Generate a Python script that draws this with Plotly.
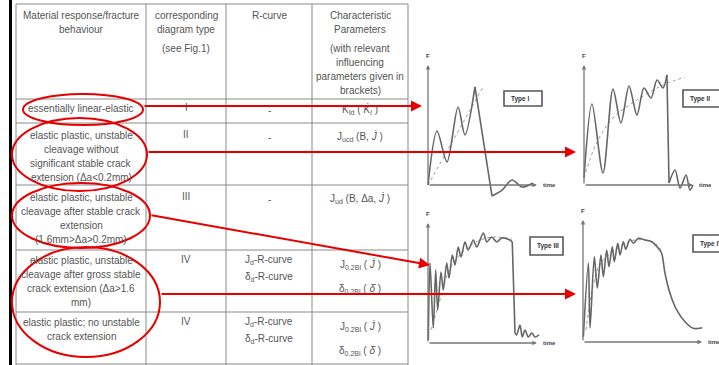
import plotly.graph_objects as go

W, H = 719, 365
FONT = "Liberation Sans, Arial, sans-serif"
GRAY_TXT = "#555555"
RED = "#e60000"
CURVE = "#666666"

# ---------------- data: force-time diagrams (normalised units) ----------------
t1 = [0, 8.2, 17.3, 27.3, 33.6, 42.7, 58.2, 67.3, 76.4, 85.5, 95.5]
f1 = [0, 45.0, 19.2, 65.0, 41.7, 81.7, -9.2, -4.2, 4.2, -1.7, 1.7]
t1_mean = [0, 50]
f1_mean = [0, 81.7]

t2 = [0, 7.3, 17.4, 26.6, 33.9, 41.3, 48.6, 55.0, 61.5, 67.0, 72.5, 76.1, 78.0, 83.5, 88.1, 93.6, 97.2, 100]
f2 = [5.8, 67.5, 10.0, 80.0, 51.7, 82.5, 58.3, 80.8, 72.5, 87.5, 80.8, 91.7, 1.7, 12.5, -2.5, 8.3, -4.2, 0]
t2_mean = [0, 11.9, 26.6, 48.6, 72.5, 92.7]
f2_mean = [5.8, 35.8, 55.8, 70.8, 83.3, 90.0]

t3 = [0.3, 1.8, 4.8, 7.0, 8.8, 11.8, 13.9, 17.0, 19.1, 22.1, 24.5, 27.5, 30.0, 33.6, 36.6, 41.2, 44.3,
      50.3, 53.4, 57.9, 62.5, 67.0, 74.5, 76.6, 79.1, 80.6, 83.6, 85.7, 88.2, 91.2, 94.3, 97.3, 100.9]
f3 = [2.5, 66.7, 12.5, 60.8, 27.5, 59.2, 44.2, 66.7, 54.2, 73.3, 65.0, 80.0, 71.7, 84.2, 77.5, 85.8, 80.0,
      91.7, 84.2, 88.3, 84.2, 87.5, 85.8, 84.2, 8.3, 6.7, 15.0, 5.0, 10.8, 5.0, 8.3, 5.0, 6.7]
t3_mean = [2.7, 10.9, 20.0, 33.6, 47.3, 60.9, 76.4]
f3_mean = [10.8, 35.8, 62.5, 77.5, 85.8, 88.3, 86.7]

t4 = [0.3, 4.5, 5.9, 9.5, 12.0, 15.1, 17.1, 19.9, 21.8, 24.6, 26.3, 29.2, 31.1, 33.9, 35.9, 39.5, 42.3,
      46.5, 52.1, 57.7, 63.3, 66.1, 68.9, 73.1, 78.7, 85.7, 92.7, 100.3]
f4 = [4.4, 65.8, 11.7, 71.1, 45.0, 72.5, 54.4, 76.7, 62.8, 79.4, 66.9, 82.3, 72.5, 83.6, 77.3, 85.6, 82.3,
      86.4, 85.0, 83.6, 78.1, 73.9, 57.3, 40.6, 26.7, 16.9, 11.4, 11.9]
t4_mean = [2.5, 7.6, 14.3, 26.9, 43.7, 60.5, 66.4]
f4_mean = [10.0, 43.3, 64.2, 76.7, 85.0, 82.5, 75.0]

# index of the point where the sudden (straight) load drop starts, None if no drop
drop_index = [5, 11, 23, None]

type_labels = ["Type I", "Type II", "Type III", "Type IV"]

# ---------------- table text ----------------
header = [
    ["Material response/fracture", "behaviour"],
    ["corresponding", "diagram type", "", "(see Fig.1)"],
    ["R-curve"],
    ["Characteristic", "Parameters", "", "(with relevant", "influencing", "parameters given in", "brackets)"],
]
rows_col1 = [
    ["essentially linear-elastic"],
    ["elastic plastic, unstable", "cleavage without", "significant stable crack", "extension (\u0394a<0.2mm)"],
    ["elastic plastic, unstable", "cleavage after stable crack", "extension", "(1.6mm>\u0394a>0.2mm)"],
    ["elastic plastic, unstable", "cleavage after gross stable", "crack extension (\u0394a>1.6", "mm)"],
    ["elastic plastic; no unstable", "crack extension"],
]
rows_col2 = ["I", "II", "III", "IV", "IV"]
rows_col3 = [["-"], ["-"], ["-"],
             ["J<sub>d</sub>-R-curve", "\u03b4<sub>d</sub>-R-curve"],
             ["J<sub>d</sub>-R-curve", "\u03b4<sub>d</sub>-R-curve"]]
rows_col4 = [["K<sub>Id</sub> ( <i>K\u0307<sub>I</sub></i> )"],
             ["J<sub>ucd</sub> (B, <i>J\u0307</i> )"],
             ["J<sub>ud</sub> (B, \u0394a, <i>J\u0307</i> )"],
             ["J<sub>0.2Bl</sub> ( <i>J\u0307</i> )", "\u03b4<sub>0.2Bl</sub> ( <i>\u03b4\u0307</i> )"],
             ["J<sub>0.2Bl</sub> ( <i>J\u0307</i> )", "\u03b4<sub>0.2Bl</sub> ( <i>\u03b4\u0307</i> )"]]

# ---------------- layout geometry (pixels) ----------------
col_x = [16, 146, 226, 312, 408]
row_y = [4, 99, 123, 185, 250, 312, 364]
col_c = [(col_x[i] + col_x[i + 1]) / 2 for i in range(4)]

fig = go.Figure()
shapes = []
ann = []

fig.update_layout(
    width=W, height=H, margin=dict(l=0, r=0, t=0, b=0),
    paper_bgcolor="white", plot_bgcolor="white", showlegend=False,
    xaxis=dict(domain=[0, 1], range=[0, W], visible=False, fixedrange=True),
    yaxis=dict(domain=[0, 1], range=[H, 0], visible=False, fixedrange=True),
)
fig.add_trace(go.Scatter(x=[0], y=[0], mode="markers", marker=dict(opacity=0), xaxis="x", yaxis="y",
                         hoverinfo="skip"))


def txt(x, y, s, size=10, color=GRAY_TXT, xanchor="center"):
    ann.append(dict(x=x, y=y, xref="x", yref="y", text=s, showarrow=False, xanchor=xanchor,
                    yanchor="middle", font=dict(family=FONT, size=size, color=color)))


# table grid
shapes.append(dict(type="line", xref="x", yref="y", x0=10.5, x1=10.5, y0=0, y1=H,
                   line=dict(color="black", width=3)))
for y in row_y:
    shapes.append(dict(type="line", xref="x", yref="y", x0=col_x[0], x1=col_x[-1], y0=y, y1=y,
                       line=dict(color="#8a8a8a", width=1)))
for x in col_x:
    shapes.append(dict(type="line", xref="x", yref="y", x0=x, x1=x, y0=row_y[0], y1=H,
                       line=dict(color="#8a8a8a", width=1)))

for ci, lines in enumerate(header):
    y = 15
    for ln in lines:
        if ln == "":
            y += 5
            continue
        txt(col_c[ci], y, ln)
        y += 14

row_top = [108, 135, 197, 260, 322]
for ri in range(5):
    y0 = row_top[ri]
    for k, ln in enumerate(rows_col1[ri]):
        txt(col_c[0], y0 + 14 * k, ln)
    txt(col_c[1], y0 - 1, rows_col2[ri])
    c3 = rows_col3[ri]
    if len(c3) == 1:
        txt(col_c[2], y0 + 2, c3[0])
    else:
        for k, ln in enumerate(c3):
            txt(col_c[2], y0 + 17 * k, ln)
    c4 = rows_col4[ri]
    if len(c4) == 1:
        txt(col_c[3], y0 + 1, c4[0])
    else:
        for k, ln in enumerate(c4):
            txt(col_c[3], y0 + 4 + 25 * k, ln)

# ---------------- diagrams ----------------
charts = [
    dict(ox=428, oy=185, sx=1.1, sy=1.2, bx=(420, 548), by=(58, 205), xend=99, yend=100,
         box=(504, 542, 91, 106), data=(t1, f1, t1_mean, f1_mean)),
    dict(ox=584, oy=185, sx=1.09, sy=1.2, bx=(576, 706), by=(58, 205), xend=100, yend=100,
         box=(683, 726, 90, 107), data=(t2, f2, t2_mean, f2_mean)),
    dict(ox=428, oy=343, sx=1.1, sy=1.2, bx=(420, 548), by=(212, 352), xend=99, yend=100,
         box=(530, 563, 237, 255), data=(t3, f3, t3_mean, f3_mean)),
    dict(ox=583, oy=342, sx=1.19, sy=1.2, bx=(575, 712), by=(210, 352), xend=100, yend=101.7,
         box=(693, 730, 235, 252), data=(t4, f4, t4_mean, f4_mean)),
]

for i, c in enumerate(charts):
    n = i + 2
    xa, ya = "x%d" % n, "y%d" % n
    xr = [(c["bx"][0] - c["ox"]) / c["sx"], (c["bx"][1] - c["ox"]) / c["sx"]]
    yr = [(c["oy"] - c["by"][1]) / c["sy"], (c["oy"] - c["by"][0]) / c["sy"]]
    fig.update_layout(**{
        "xaxis%d" % n: dict(domain=[c["bx"][0] / W, c["bx"][1] / W], range=xr, visible=False,
                            anchor=ya, fixedrange=True),
        "yaxis%d" % n: dict(domain=[1 - c["by"][1] / H, 1 - c["by"][0] / H], range=yr, visible=False,
                            anchor=xa, fixedrange=True),
    })
    tt, ff, tm, fm = c["data"]
    fig.add_trace(go.Scatter(x=tm, y=fm, mode="lines", xaxis=xa, yaxis=ya, hoverinfo="skip",
                             line=dict(color="#9a9a9a", width=1, dash="dot", shape="spline")))
    d = drop_index[i]
    if d is None:
        pieces = [(0, len(tt), "spline")]
    else:
        pieces = [(0, d + 1, "spline"), (d, d + 2, "linear"), (d + 1, len(tt), "spline")]
    for (a, b, shp) in pieces:
        fig.add_trace(go.Scatter(x=tt[a:b], y=ff[a:b], mode="lines", xaxis=xa, yaxis=ya, hoverinfo="skip",
                                 line=dict(color=CURVE, width=1.6, shape=shp, smoothing=0.85)))
    for (tx, ty) in [(0, c["yend"]), (c["xend"], 0)]:
        ann.append(dict(x=tx, y=ty, ax=0, ay=0, xref=xa, yref=ya, axref=xa, ayref=ya, text="",
                        showarrow=True, arrowhead=2, arrowsize=0.7, arrowwidth=1.3,
                        arrowcolor="#777777", standoff=0))
    ann.append(dict(x=0, y=c["yend"], xref=xa, yref=ya, text="<b>F</b>", showarrow=False,
                    yshift=9, font=dict(family=FONT, size=6, color="#444")))
    ann.append(dict(x=c["xend"], y=0, xref=xa, yref=ya, text="<b>time</b>", showarrow=False,
                    xanchor="left", xshift=4, font=dict(family=FONT, size=6, color="#444")))
    bx0, bx1, by0, by1 = c["box"]
    shapes.append(dict(type="rect", xref="x", yref="y", x0=bx0, x1=bx1, y0=by0, y1=by1,
                       line=dict(color="#555555", width=1.6), fillcolor="white"))
    ann.append(dict(x=bx0 + 5, y=(by0 + by1) / 2, xref="x", yref="y", text="<b>%s</b>" % type_labels[i],
                    showarrow=False, xanchor="left", yanchor="middle",
                    font=dict(family=FONT, size=6.5, color="#333")))

# ---------------- red ellipses and arrows ----------------
ellipses = [(23, 143, 94, 125), (12, 147, 118, 191), (12, 150, 183, 248), (12, 160, 247, 357)]
for (x0, x1, y0, y1) in ellipses:
    shapes.append(dict(type="circle", xref="x", yref="y", x0=x0, x1=x1, y0=y0, y1=y1,
                       line=dict(color=RED, width=2)))
arrows = [((143, 106), (422, 106)), ((147, 152), (576, 152)), ((150, 215), (430, 265)),
          ((160, 294), (576, 294))]
for (tail, tip) in arrows:
    ann.append(dict(x=tip[0], y=tip[1], ax=tail[0], ay=tail[1], xref="x", yref="y", axref="x", ayref="y",
                    text="", showarrow=True, arrowhead=2, arrowsize=1.1, arrowwidth=2,
                    arrowcolor=RED, standoff=0))

fig.update_layout(shapes=shapes, annotations=ann)
fig.write_html("out.html")
